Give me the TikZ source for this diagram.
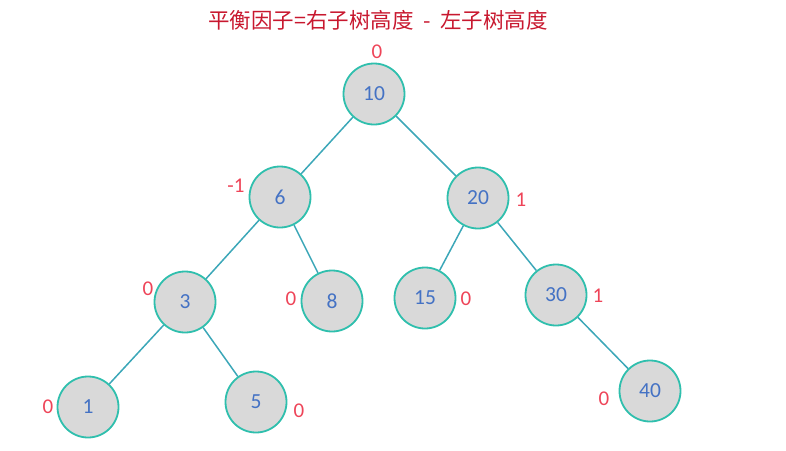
\documentclass[tikz,border=0pt]{standalone}
\usepackage{fontspec}
\setmainfont{Carlito}
\newfontfamily\cjk{Noto Sans CJK SC}
\usetikzlibrary{positioning}
\definecolor{ring}{HTML}{2FBFAD}
\definecolor{numblue}{HTML}{4472C4}
\definecolor{bfred}{HTML}{EE4458}
\definecolor{ttlred}{HTML}{C8182F}
\definecolor{edgec}{HTML}{3CA7B8}
\begin{document}
\begin{tikzpicture}[x=1pt,y=-1pt,inner sep=0pt]
  \useasboundingbox (0,0) rectangle (786,450);
  \tikzstyle{v}=[circle,draw=ring,line width=1.8pt,fill=black!15,minimum size=61pt,text=numblue,font=\fontsize{21.5}{22}\selectfont]
  \tikzstyle{bf}=[text=bfred,font=\fontsize{21}{22}\selectfont]
  \node[text=ttlred,font=\cjk\fontsize{21.5}{22}\selectfont](title)at(378,20){平衡因子=右子树高度\ \ -\ \ 左子树高度};
  \node[v](n10)at(374,94){10};
  \node[v](n6)at(280,197){6};
  \node[v](n20)at(478,198){20};
  \node[v](n3)at(185,302){3};
  \node[v](n8)at(332,301){8};
  \node[v](n15)at(425,298){15};
  \node[v](n30)at(556,295){30};
  \node[v](n1)at(88,407){1};
  \node[v](n5)at(256,402){5};
  \node[v](n40)at(650,391){40};
  % balance factors
  \node[bf](b10)at(377,52){0};
  \node[bf](b6)at(236,186){-1};
  \node[bf](b20)at(521,200){1};
  \node[bf](b3)at(148,289){0};
  \node[bf](b8)at(291,299){0};
  \node[bf](b15)at(466,299){0};
  \node[bf](b30)at(598,296){1};
  \node[bf](b1)at(48,407){0};
  \node[bf](b5)at(299,411){0};
  \node[bf](b40)at(604,399){0};
  \tikzstyle{e}=[draw=edgec,line width=1.5pt]
  \foreach\o/\d in{n10/n6,n10/n20,n6/n3,n6/n8,n20/n15,n20/n30,n3/n1,n3/n5,n30/n40}{\draw[e](\o)--(\d);}
\end{tikzpicture}
\end{document}
